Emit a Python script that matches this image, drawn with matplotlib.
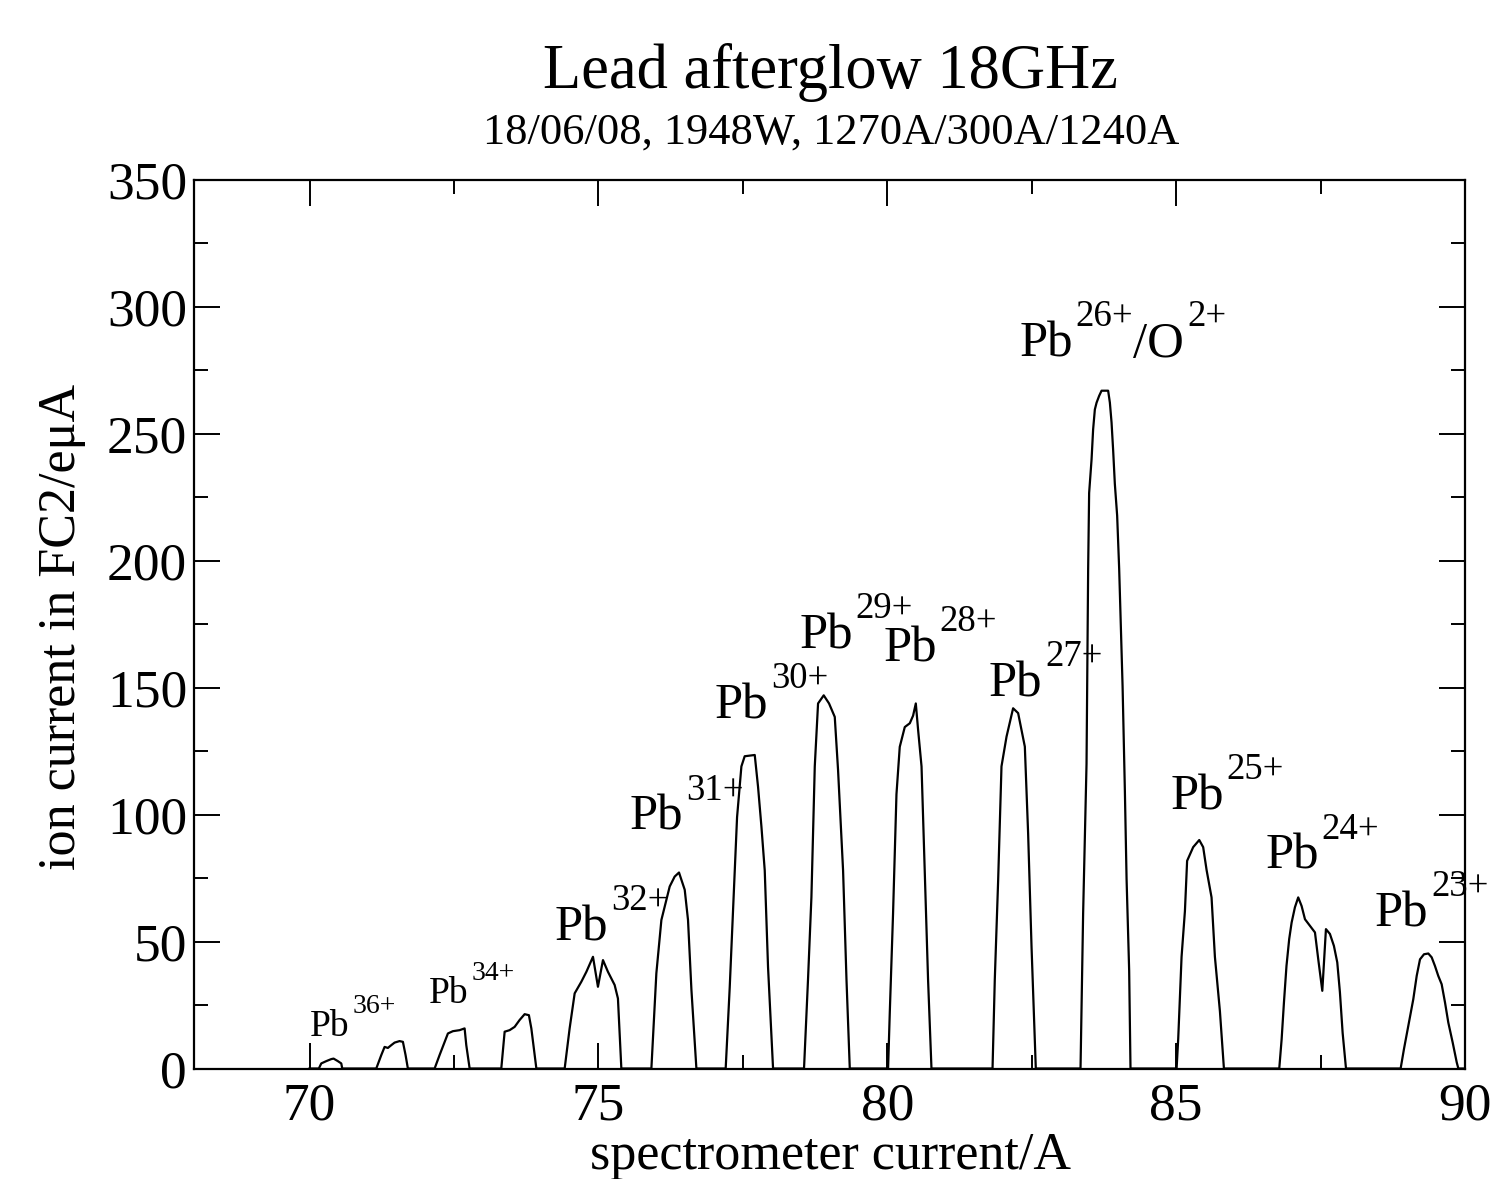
import matplotlib
matplotlib.use("Agg")
import matplotlib.pyplot as plt
import numpy as np

plt.rcParams['font.family'] = ['Liberation Serif', 'DejaVu Serif']

# peak outlines (spectrometer current / A, ion current / euA)
pb36_x = [70.161, 70.203, 70.289, 70.376, 70.416, 70.49, 70.549, 70.566]
pb36_y = [0, 2.0, 2.9, 3.7, 3.9, 2.9, 2.0, 0]

pb35_x = [71.155, 71.242, 71.299, 71.356, 71.415, 71.472, 71.558, 71.616, 71.662, 71.702]
pb35_y = [0, 5.3, 8.5, 8.1, 9.2, 10.2, 10.8, 10.5, 5.3, 0]

pb34_x = [72.165, 72.251, 72.338, 72.395, 72.481, 72.597, 72.684, 72.713, 72.771]
pb34_y = [0, 5.3, 10.5, 13.8, 14.7, 15.1, 15.8, 9.2, 0]

pb33_x = [73.319, 73.377, 73.463, 73.55, 73.636, 73.723, 73.797, 73.839, 73.926]
pb33_y = [0, 14.5, 15.1, 16.4, 19.1, 21.4, 21.0, 15.8, 0]

pb32_x = [74.416, 74.502, 74.589, 74.705, 74.792, 74.906, 74.992, 75.079, 75.165, 75.281, 75.338, 75.397]
pb32_y = [0, 15.8, 29.6, 34.2, 38.1, 44.0, 32.2, 42.7, 38.1, 32.9, 27.6, 0]

pb31_x = [75.917, 76.003, 76.09, 76.177, 76.234, 76.32, 76.395, 76.494, 76.551, 76.61, 76.696]
pb31_y = [0, 37.5, 58.5, 66.4, 71.7, 75.6, 77.2, 70.4, 58.5, 31.0, 0]

pb30_x = [77.203, 77.273, 77.359, 77.4, 77.475, 77.532, 77.706, 77.763, 77.822, 77.879, 77.936, 78.023]
pb30_y = [0, 32.0, 78.0, 99.0, 119.0, 123.0, 123.5, 111.0, 95.2, 78.0, 40.0, 0]

pb29_x = [78.559, 78.628, 78.687, 78.745, 78.802, 78.9, 78.992, 79.091, 79.148, 79.235, 79.294, 79.351]
pb29_y = [0, 35.0, 67.5, 119.0, 143.8, 147.0, 143.8, 138.5, 117.6, 78.0, 35.0, 0]

pb28_x = [80.014, 80.043, 80.1, 80.159, 80.216, 80.303, 80.39, 80.447, 80.494, 80.534, 80.593, 80.649, 80.706, 80.765]
pb28_y = [0, 21.7, 61.0, 108.0, 126.7, 134.5, 136.0, 139.0, 143.8, 133.3, 119.0, 77.0, 35.0, 0]

pb27_x = [81.822, 81.861, 81.919, 81.977, 82.064, 82.178, 82.265, 82.381, 82.438, 82.497, 82.571]
pb27_y = [0, 35.0, 74.0, 119.0, 130.7, 141.9, 140.0, 126.8, 92.6, 48.0, 0]

pb26_x = [83.345, 83.39, 83.449, 83.477, 83.494, 83.536, 83.563, 83.593, 83.623, 83.668, 83.709,
          83.823, 83.853, 83.882, 83.91, 83.939, 83.979, 84.014, 84.073, 84.113, 84.142, 84.187, 84.21]
pb26_y = [0, 61.0, 120.0, 196.8, 226.7, 239.9, 251.7, 259.6, 262.3, 265.0, 267.0,
          267.0, 262.3, 254.5, 243.4, 230.3, 217.8, 196.8, 150.6, 109.0, 74.7, 38.5, 0]

pb25_x = [85.008, 85.036, 85.094, 85.152, 85.19, 85.295, 85.4, 85.468, 85.527, 85.613, 85.671, 85.758, 85.827]
pb25_y = [0, 11.7, 44.0, 62.0, 81.8, 87.2, 90.0, 87.2, 78.2, 67.4, 44.0, 22.5, 0]

pb24_x = [86.785, 86.826, 86.866, 86.91, 86.957, 86.999, 87.056, 87.113, 87.172, 87.23, 87.316, 87.403,
          87.46, 87.53, 87.593, 87.662, 87.731, 87.789, 87.835, 87.882, 87.94]
pb24_y = [0, 11.5, 26.0, 40.4, 51.0, 57.5, 63.5, 67.4, 64.0, 58.8, 56.2, 53.6,
          43.0, 30.6, 54.9, 53.0, 48.3, 41.8, 30.0, 14.0, 0]

pb23_x = [88.886, 88.943, 89.018, 89.105, 89.164, 89.221, 89.29, 89.365, 89.423, 89.48, 89.537,
          89.596, 89.654, 89.711, 89.787, 89.857, 89.885]
pb23_y = [0, 7.6, 16.8, 27.3, 36.5, 43.0, 45.0, 45.3, 43.8, 40.4, 36.5,
          33.2, 26.0, 18.1, 10.2, 2.4, 0]

peaks_x = [pb36_x, pb35_x, pb34_x, pb33_x, pb32_x, pb31_x, pb30_x,
           pb29_x, pb28_x, pb27_x, pb26_x, pb25_x, pb24_x, pb23_x]
peaks_y = [pb36_y, pb35_y, pb34_y, pb33_y, pb32_y, pb31_y, pb30_y,
           pb29_y, pb28_y, pb27_y, pb26_y, pb25_y, pb24_y, pb23_y]

# labels: charge state, where "Pb" sits (left, baseline), small font or not
label_sup = ['36+', '34+', '32+', '31+', '30+', '29+', '28+', '27+', '25+', '24+', '23+']
label_x = [70.01, 72.07, 74.24, 75.54, 77.01, 78.48, 79.93, 81.76, 84.90, 86.54, 88.44]
label_y = [12.8, 25.7, 50.6, 94.0, 138.0, 165.6, 160.3, 146.6, 102.0, 78.6, 55.9]
label_small = [True, True, False, False, False, False, False, False, False, False, False]

# one continuous trace, zero between peaks
xs = [70.0]
ys = [0.0]
for px, py in zip(peaks_x, peaks_y):
    xs += px
    ys += py
xs.append(90.0)
ys.append(0.0)

fig = plt.figure(figsize=(15.03, 11.79), dpi=100)
ax = fig.add_axes([194 / 1503, 1 - 1068.5 / 1179, (1465 - 194) / 1503, (1068.5 - 180) / 1179])

ax.plot(xs, ys, color='black', lw=1.6)

ax.set_xticks(np.arange(70, 91, 5))
ax.set_xticks(np.arange(70, 90, 2.5), minor=True)
ax.set_yticks(np.arange(0, 351, 50))
ax.set_yticks(np.arange(0, 351, 25), minor=True)
ax.set_xlim(68, 90)
ax.set_ylim(0, 350)
ax.tick_params(which='both', direction='in', top=True, right=True, width=1.4, labelsize=38.5)
ax.tick_params(which='major', length=18.5)
ax.tick_params(which='minor', length=10)
ax.tick_params(axis='x', pad=10)
ax.tick_params(axis='y', pad=5)
for sp in ax.spines.values():
    sp.set_linewidth(1.6)


def pb_label(x, y, sup, small=False, extra=None):
    fs = 27 if small else 36.5
    fss = 20 if small else 26.5
    rise = 18 if small else 24
    gap = 2
    pb = ax.text(x, y, 'Pb', fontsize=fs, va='baseline', ha='left')
    s = ax.annotate(sup, xy=(1, 0), xycoords=pb, xytext=(gap, rise),
                    textcoords='offset points', fontsize=fss, va='bottom', ha='left')
    if extra is not None:
        o = ax.annotate(extra[0], xy=(1, 0), xycoords=(s, pb), xytext=(0, 0),
                        textcoords='offset points', fontsize=fs, va='bottom', ha='left')
        ax.annotate(extra[1], xy=(1, 0), xycoords=(o, pb), xytext=(gap, rise),
                    textcoords='offset points', fontsize=fss, va='bottom', ha='left')


for sup, lx, ly, sm in zip(label_sup, label_x, label_y, label_small):
    pb_label(lx, ly, sup, sm)
pb_label(82.29, 280.4, '26+', extra=('/O', '2+'))

fig.text(830 / 1503, 1 - 72 / 1179, 'Lead afterglow 18GHz', fontsize=45, ha='center', va='center')
fig.text(831 / 1503, 1 - 133 / 1179, '18/06/08, 1948W, 1270A/300A/1240A', fontsize=32,
         ha='center', va='center')
fig.text(830 / 1503, 1 - 1156 / 1179, 'spectrometer current/A', fontsize=37.5, ha='center', va='center')
fig.text(62 / 1503, 1 - 627 / 1179, 'ion current in FC2/eμA', fontsize=37.5, ha='center',
         va='center', rotation=90)

fig.savefig('out.png', dpi=100)
